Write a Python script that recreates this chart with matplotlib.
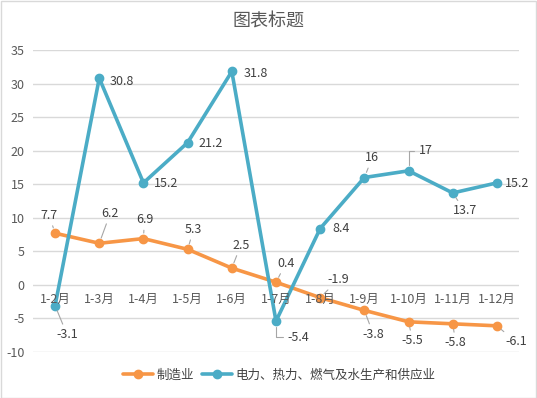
import numpy as np
import matplotlib
matplotlib.use('Agg')
import matplotlib.pyplot as plt
from matplotlib.patches import Rectangle

plt.rcParams['font.family'] = ['Noto Sans CJK SC', 'DejaVu Sans']

months = ['1-2月', '1-3月', '1-4月', '1-5月', '1-6月', '1-7月', '1-8月',
          '1-9月', '1-10月', '1-11月', '1-12月']
manufacturing = [7.7, 6.2, 6.9, 5.3, 2.5, 0.4, -1.9, -3.8, -5.5, -5.8, -6.1]
power = [-3.1, 30.8, 15.2, 21.2, 31.8, -5.4, 8.4, 16, 17, 13.7, 15.2]
yticks = [-10, -5, 0, 5, 10, 15, 20, 25, 30, 35]

# label offsets in pixels (dx, dy down); leader: None, 'line' or 'elbow'
manu_off = [(-6, -18), (11, -30), (1, -19), (6, -20), (9, -23), (10, -19),
            (18, -18), (9, 24), (4, 19), (3, 19), (19, 16)]
manu_lead = ['line'] * 11
power_off = [(12, 29), (23, 3), (23, 1), (23, 1), (24, 2), (22, 16),
             (21, 0), (8, -20), (17, -20), (12, 18), (20, 1)]
power_lead = ['line', None, None, None, None, 'elbow', None, 'line', 'elbow',
              'line', None]

orange = '#F79646'
blue = '#4BACC6'
grid_c = '#D9D9D9'
text_c = '#595959'
label_c = '#404040'

fig = plt.figure(figsize=(5.37, 3.98), dpi=100)
ax = fig.add_axes([33/537, 1-352/398, (519-33)/537, (352-50)/398])

x = np.arange(len(months))
ax.set_xlim(-0.5, len(months)-0.5)
ax.set_ylim(-10, 35)
ax.set_yticks(yticks)
ax.set_yticklabels([str(v) for v in yticks])
ax.set_xticks([])
ax.grid(axis='y', color=grid_c, linewidth=1)
ax.set_axisbelow(True)
for s in ax.spines.values():
    s.set_visible(False)
ax.tick_params(axis='y', length=0, pad=6, labelsize=9, labelcolor=text_c)

l1, = ax.plot(x, manufacturing, color=orange, lw=2.6, marker='o', ms=6,
              label='制造业', solid_capstyle='round')
l2, = ax.plot(x, power, color=blue, lw=2.6, marker='o', ms=6,
              label='电力、热力、燃气及水生产和供应业', solid_capstyle='round')

for i, m in enumerate(months):
    ax.annotate(m, (i, 0), xytext=(0, -15*0.72), textcoords='offset points',
                ha='center', va='center', fontsize=9, color=text_c)


def put_labels(vals, offs, leads):
    for i, v in enumerate(vals):
        dx, dy = offs[i]
        props = None
        if leads[i] == 'line':
            props = dict(arrowstyle='-', color='#A6A6A6', lw=0.8,
                         shrinkA=1, shrinkB=4)
        elif leads[i] == 'elbow':
            props = dict(arrowstyle='-', color='#A6A6A6', lw=0.8,
                         shrinkA=1, shrinkB=4,
                         connectionstyle='angle,angleA=0,angleB=90,rad=0')
        ax.annotate(f'{v:g}', (i, v), xytext=(dx*0.72, -dy*0.72),
                    textcoords='offset points', ha='center', va='center',
                    fontsize=9, color=label_c, arrowprops=props)


put_labels(manufacturing, manu_off, manu_lead)
put_labels(power, power_off, power_lead)

fig.text(0.5, 1-22/398, '图表标题', ha='center', va='center', fontsize=13,
         color=text_c)

fig.legend(handles=[l1, l2], loc='center', bbox_to_anchor=(0.52, 1-375/398),
           ncol=2, frameon=False, fontsize=9, handlelength=2.4,
           columnspacing=0.6, handletextpad=0.3, labelcolor=label_c)

fig.add_artist(Rectangle((0.5/537, 0.5/398), 1-1.5/537, 1-1.5/398,
                         transform=fig.transFigure, fill=False,
                         edgecolor=grid_c, lw=1))

fig.savefig('out.png', dpi=100)
